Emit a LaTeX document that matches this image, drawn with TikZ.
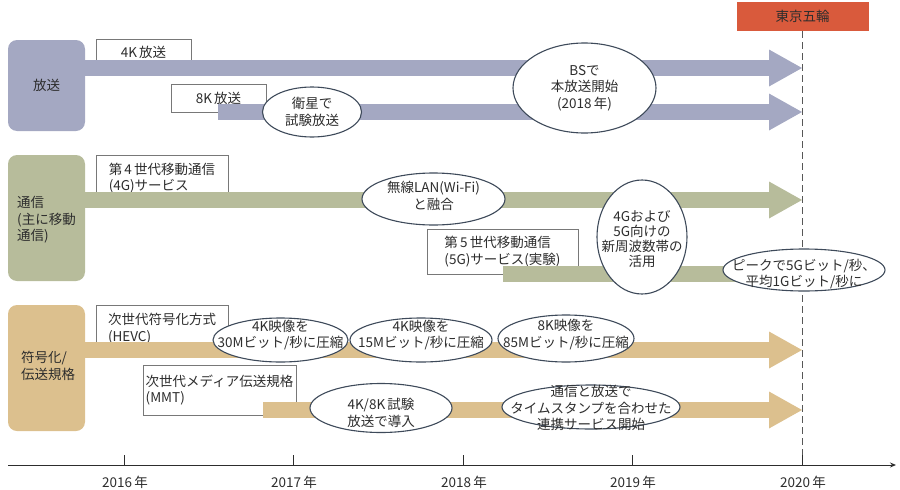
\documentclass[tikz,border=0pt]{standalone}
\usepackage{fontspec}
\setmainfont{Noto Sans CJK JP}
\usetikzlibrary{shapes.geometric,arrows.meta}
\definecolor{bcast}{RGB}{164,168,194}
\definecolor{comm}{RGB}{183,188,155}
\definecolor{codec}{RGB}{220,192,142}
\definecolor{tokyo}{RGB}{217,90,60}
\definecolor{ink}{RGB}{45,45,45}
\definecolor{eline}{RGB}{62,74,90}
\definecolor{bline}{RGB}{120,120,120}
\newcommand\tlarrow[4]{% colour, x start, y centre, x tip
  \fill[#1] (#2,{#3-7.8}) -- ({#4-33},{#3-7.8}) -- ({#4-33},{#3-18.5}) -- (#4,#3)
    -- ({#4-33},{#3+18.5}) -- ({#4-33},{#3+7.8}) -- (#2,{#3+7.8}) -- cycle;}
\begin{document}
\begin{tikzpicture}[x=1pt,y=-1pt,
  every node/.style={font=\fontsize{13.5}{16.5}\selectfont, text=ink},
  cat/.style={rounded corners=9pt, inner sep=0pt},
  lbox/.style={draw=bline, line width=0.7pt, fill=white, inner sep=0pt, align=left},
  oval/.style={ellipse, draw=eline, line width=1.1pt, fill=white, inner sep=0pt},
  otext/.style={align=center, inner sep=0pt},
  axisline/.style={draw=ink, line width=1pt},
]
\useasboundingbox (0,0) rectangle (900,490);

% category boxes
\node[cat, fill=bcast, minimum width=77pt, minimum height=91pt] (cb) at (46.5,85.5) {放送};
\node[cat, fill=comm, minimum width=77pt, minimum height=126pt] (cc) at (46.5,218) {};
\node[align=left, anchor=west, inner sep=0pt] (cct) at (17,220) {通信\\(主に移動\\通信)};
\node[cat, fill=codec, minimum width=77pt, minimum height=126pt] (cf) at (46.5,368) {};
\node[align=left, anchor=west, inner sep=0pt] (cft) at (21,366) {符号化/\\伝送規格};

% label boxes
\node[lbox, minimum width=95pt, minimum height=27pt] (b4k) at (143.5,52.5) {4K\,放送};
\node[lbox, minimum width=95pt, minimum height=28pt] (b8k) at (218.5,98) {8K\,放送};
\node[lbox, minimum width=132pt, minimum height=46pt] (b4g) at (162,178) {第\,4\,世代移動通信\\(4G)サービス};
\node[lbox, minimum width=151pt, minimum height=45pt] (b5g) at (502.5,251.5) {第\,5\,世代移動通信\\(5G)サービス(実験)};
\node[lbox, minimum width=132pt, minimum height=47pt] (bhevc) at (162,328.5) {次世代符号化方式\\(HEVC)};
\node[lbox, minimum width=153pt, minimum height=50pt] (bmmt) at (219.5,390) {次世代メディア伝送規格\\(MMT)};

% arrows
\tlarrow{bcast}{80}{68}{802}
\tlarrow{bcast}{218}{112}{802}
\tlarrow{comm}{80}{200}{802}
\fill[comm] (503,266) rectangle (760,282);
\tlarrow{codec}{80}{350}{802}
\tlarrow{codec}{263}{410}{802}

% Tokyo and dashed line
\node[fill=tokyo, minimum width=132pt, minimum height=29pt, inner sep=0pt] (tokyo) at (802.5,16.5) {東京五輪};
\coordinate (t2020) at (802,465);
\draw[draw=ink!80, line width=0.8pt, dash pattern=on 7pt off 4pt] (tokyo.south -| t2020) -- (t2020);

% ellipses
\node[oval, minimum width=99pt, minimum height=50pt] (e1) at (312,112) {};
\node[oval, minimum width=143pt, minimum height=90pt] (e2) at (584.5,88) {};
\node[oval, minimum width=143pt, minimum height=52pt] (e3) at (433.5,199) {};
\node[oval, minimum width=90pt, minimum height=114pt] (e4) at (642,237) {};
\node[oval, minimum width=162pt, minimum height=42pt] (e5) at (804,270) {};
\node[oval, minimum width=135pt, minimum height=44pt] (e6) at (280.5,340) {};
\node[oval, minimum width=142pt, minimum height=44pt] (e7) at (421,340) {};
\node[oval, minimum width=136pt, minimum height=47pt] (e8) at (566,338.5) {};
\node[oval, minimum width=142pt, minimum height=49pt] (e9) at (381,408) {};
\node[oval, minimum width=178pt, minimum height=44pt] (e10) at (591,407) {};

\node[otext] (t1) at (e1.center) {衛星で\\試験放送};
\node[otext] (t2) at (e2.center) {BSで\\本放送開始\\(2018\,年)};
\node[otext] (t3) at ([yshift=3pt]e3.center) {無線LAN(Wi-Fi)\\と融合};
\node[otext] (t4) at ([yshift=-2pt]e4.center) {4Gおよび\\[-1.5pt]5G向けの\\[-1.5pt]新周波数帯の\\[-1.5pt]活用};
\node[otext] (t5) at ([yshift=-4pt]e5.center) {ピークで5Gビット/秒、\\平均1Gビット/秒に};
\node[otext] (t6) at ([yshift=5pt]e6.center) {4K映像を\\30Mビット/秒に圧縮};
\node[otext] (t7) at ([yshift=5pt]e7.center) {4K映像を\\15Mビット/秒に圧縮};
\node[otext] (t8) at ([yshift=4pt]e8.center) {8K映像を\\85Mビット/秒に圧縮};
\node[otext] (t9) at ([yshift=-5pt]e9.center) {4K/8K\,試験\\放送で導入};
\node[otext] (t10) at ([yshift=-1pt]e10.center) {通信と放送で\\タイムスタンプを合わせた\\連携サービス開始};

% axis
\coordinate (axL) at (8,465);
\coordinate (axR) at (896,465);
\draw[axisline, -{Stealth[length=6pt,width=5pt]}] (axL) -- (axR);
\foreach \x/\yr in {124/2016,293/2017,463/2018,632/2019,802/2020} {
  \draw[axisline] (\x,465) -- (\x,455);
  \node (y\yr) at (\x+1,482) {\yr\,年};
}
\end{tikzpicture}
\end{document}
